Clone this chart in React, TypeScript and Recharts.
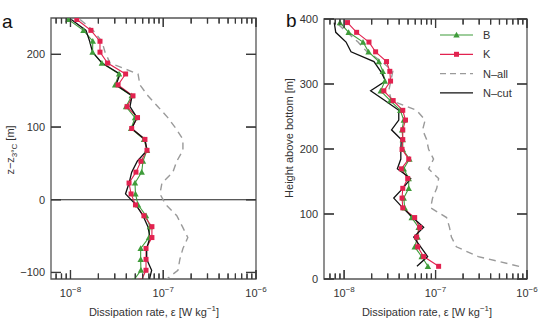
import React from 'react';
import { LineChart, Line, XAxis, YAxis, ReferenceLine, ReferenceArea, Legend } from 'recharts';

// panel a: depth relative to the 3°C isotherm
const zA = [248, 233, 218, 203, 188, 173, 158, 143, 128, 113, 98, 83, 68, 53, 38, 23, 8, -7, -22, -37, -52, -67, -82, -97, -112];
const bA = [9.5e-9, 1.38e-8, 1.74e-8, 1.73e-8, 2.18e-8, 3.34e-8, 3.03e-8, 4.57e-8, 3.97e-8, 4.96e-8, 4.5e-8, 6.2e-8, 6.68e-8, 6.05e-8, 5.86e-8, 4.96e-8, 5.02e-8, 5.35e-8, 6.52e-8, 7.19e-8, 7.02e-8, 5.71e-8, 5.71e-8, 5.75e-8, 4.72e-8];
const kA = [1.17e-8, 1.66e-8, 2.08e-8, 2.08e-8, 2.51e-8, 3.93e-8, 3.26e-8, 4.72e-8, 4.07e-8, 5.28e-8, 4.57e-8, 6.35e-8, 6.68e-8, 5.75e-8, 5.08e-8, 4.28e-8, 4.5e-8, 5.02e-8, 6.19e-8, 7.55e-8, 7.55e-8, 6.52e-8, 6.52e-8, 6.52e-8, 5.75e-8];
const nAllA = [1.27e-8, 1.75e-8, 2.18e-8, 2.36e-8, 2.67e-8, 5.35e-8, 5.61e-8, 6.84e-8, 8.77e-8, 1.12e-7, 1.37e-7, 1.63e-7, 1.63e-7, 1.4e-7, 1.27e-7, 9.68e-8, 9.22e-8, 1.07e-7, 1.4e-7, 1.61e-7, 1.84e-7, 1.63e-7, 1.51e-7, 1.44e-7, 1.02e-7];
const nCutA = [1.02e-8, 1.47e-8, 1.61e-8, 1.73e-8, 2.19e-8, 3.42e-8, 3.1e-8, 4.61e-8, 4.38e-8, 5.21e-8, 4.57e-8, 6.35e-8, 6.68e-8, 5.25e-8, 4.57e-8, 4.28e-8, 3.92e-8, 5.09e-8, 6.05e-8, 6.84e-8, 7.19e-8, 6.63e-8, 6.63e-8, 7.5e-8, 7.02e-8];

// panel b: height above bottom
const hB = [19.5, 34.5, 49.5, 64.5, 79.5, 94.5, 109.5, 124.5, 139.5, 154.5, 169.5, 184.5, 199.5, 214.5, 229.5, 244.5, 259.5, 274.5, 289.5, 304.5, 319.5, 334.5, 349.5, 364.5, 379.5, 394.5];
const bB = [8.25e-8, 7.05e-8, 5.91e-8, 6.37e-8, 6.53e-8, 5.48e-8, 4.6e-8, 4.49e-8, 5.09e-8, 5.09e-8, 4.49e-8, 5.18e-8, 4.38e-8, 4.38e-8, 4.3e-8, 4.49e-8, 4.11e-8, 3.2e-8, 2.51e-8, 2.79e-8, 2.65e-8, 2.4e-8, 1.85e-8, 1.61e-8, 1.12e-8, 9.0e-9];
const kB = [1.08e-7, 7.41e-8, 6.37e-8, 6.21e-8, 6.7e-8, 5.91e-8, 4.38e-8, 4.3e-8, 4.38e-8, 4.96e-8, 4.22e-8, 5.09e-8, 4.3e-8, 4.38e-8, 4.38e-8, 4.69e-8, 4.38e-8, 3.44e-8, 2.72e-8, 3.22e-8, 3.16e-8, 2.91e-8, 2.21e-8, 1.87e-8, 1.37e-8, 1.09e-8];
const nAllB = [8.19e-7, 2.93e-7, 1.69e-7, 1.49e-7, 1.42e-7, 1.32e-7, 8.82e-8, 9.28e-8, 1.03e-7, 1.08e-7, 8.39e-8, 9.51e-8, 8.39e-8, 7.98e-8, 7.22e-8, 7.69e-8, 6.21e-8, 3.3e-8, 3.08e-8, 3.24e-8, 3.41e-8, 2.59e-8, 1.78e-8, 1.42e-8, 1.08e-8, 8.2e-9];
const nCutB = [6.26e-8, 8.19e-8, 6.87e-8, 5.77e-8, 7.41e-8, 5.62e-8, 4.38e-8, 3.49e-8, 4.38e-8, 5.35e-8, 3.82e-8, 4.17e-8, 4.17e-8, 4.22e-8, 3.3e-8, 3.96e-8, 3.96e-8, 2.79e-8, 1.95e-8, 2.84e-8, 2.51e-8, 2.12e-8, 1.19e-8, 1.05e-8, 8.1e-9, 7.8e-9];

const xTicks = [7e-9, 8e-9, 9e-9, 1e-8, 2e-8, 3e-8, 4e-8, 5e-8, 6e-8, 7e-8, 8e-8, 9e-8, 1e-7, 2e-7, 3e-7, 4e-7, 5e-7, 6e-7, 7e-7, 8e-7, 9e-7, 1e-6];
const yTicksA = [-100, 0, 100, 200];
const yTicksB = [0, 100, 200, 300, 400];
const seriesNames = ['B', 'K', 'N\u2013all', 'N\u2013cut'];

const rowsA = zA.map((z, i) => ({ z, B: bA[i], K: kA[i], Nall: nAllA[i], Ncut: nCutA[i] }));
const rowsB = hB.map((h, i) => ({ h, B: bB[i], K: kB[i], Nall: nAllB[i], Ncut: nCutB[i] }));

const FONT = 'Liberation Sans, Arial, Helvetica, sans-serif';
const FRAME = '#555';
const TICK = '#3a3a3a';
const GREEN = '#3f9c3a';
const RED = '#e2224f';
const GREY = '#9a9a9a';
const BLACK = '#111';

const minus = (n: number) => (n < 0 ? '\u2212' + Math.abs(n) : String(n));
const isDecade = (v: number) => Math.abs(Math.log10(v) - Math.round(Math.log10(v))) < 1e-6;

function makeXTick(plotH: number) {
  return (props: any) => {
    const { x, y, payload } = props;
    const e = Math.round(Math.log10(payload.value));
    const major = isDecade(payload.value);
    const len = major ? 9 : 5.5;
    return (
      <g>
        <line x1={x} x2={x} y1={y} y2={y - len} stroke={TICK} strokeWidth={1.2} />
        <line x1={x} x2={x} y1={y - plotH} y2={y - plotH + len} stroke={TICK} strokeWidth={1.2} />
        {major && (
          <text x={x} y={y + 18} textAnchor="middle" fontSize={11} fill="#333" fontFamily={FONT}>
            10<tspan dy={-5} fontSize={8}>{minus(e)}</tspan>
          </text>
        )}
      </g>
    );
  };
}

function makeYTick(plotW: number) {
  return (props: any) => {
    const { x, y, payload } = props;
    return (
      <g>
        <line x1={x} x2={x + 10} y1={y} y2={y} stroke={TICK} strokeWidth={1.2} />
        <line x1={x + plotW - 10} x2={x + plotW} y1={y} y2={y} stroke={TICK} strokeWidth={1.2} />
        <text x={x - 6} y={y + 4} textAnchor="end" fontSize={11} fill="#333" fontFamily={FONT}>
          {minus(payload.value)}
        </text>
      </g>
    );
  };
}

// inward tick marks as reference segments (lengths converted from px to data units)
function tickSegments(k: string, domX: [number, number], domY: [number, number], yTicks: number[], plotW: number, plotH: number) {
  const yPerPx = (domY[1] - domY[0]) / plotH;
  const decPerPx = (Math.log10(domX[1]) - Math.log10(domX[0])) / plotW;
  const out: any[] = [];
  xTicks.forEach((v) => {
    const len = (isDecade(v) ? 9 : 5.5) * yPerPx;
    out.push(<ReferenceLine key={`${k}xb${v}`} segment={[{ x: v, y: domY[0] }, { x: v, y: domY[0] + len }]} stroke={TICK} strokeWidth={1.2} ifOverflow="visible" />);
    out.push(<ReferenceLine key={`${k}xt${v}`} segment={[{ x: v, y: domY[1] }, { x: v, y: domY[1] - len }]} stroke={TICK} strokeWidth={1.2} ifOverflow="visible" />);
  });
  const f = Math.pow(10, 10 * decPerPx);
  yTicks.forEach((t) => {
    out.push(<ReferenceLine key={`${k}yl${t}`} segment={[{ x: domX[0], y: t }, { x: domX[0] * f, y: t }]} stroke={TICK} strokeWidth={1.2} ifOverflow="visible" />);
    out.push(<ReferenceLine key={`${k}yr${t}`} segment={[{ x: domX[1] / f, y: t }, { x: domX[1], y: t }]} stroke={TICK} strokeWidth={1.2} ifOverflow="visible" />);
  });
  return out;
}

const renderTri = (props: any) => {
  const { cx, cy, key } = props;
  if (cx == null || cy == null) return <g key={key} />;
  const s = 3.2;
  return <polygon key={key} points={`${cx},${cy - s} ${cx - s},${cy + s * 0.8} ${cx + s},${cy + s * 0.8}`} fill={GREEN} />;
};

const renderSq = (props: any) => {
  const { cx, cy, key } = props;
  if (cx == null || cy == null) return <g key={key} />;
  return <rect key={key} x={cx - 2.5} y={cy - 2.5} width={5} height={5} fill={RED} />;
};

const LegendBox = () => (
  <svg width={100} height={80} style={{ overflow: 'visible' }}>
    {seriesNames.map((name, i) => {
      const y = 8 + i * 19.3;
      const stroke = [GREEN, RED, GREY, BLACK][i];
      return (
        <g key={name}>
          <line x1={0} x2={33} y1={y} y2={y} stroke={stroke} strokeWidth={i >= 2 ? 1.4 : 1.2} strokeDasharray={i === 2 ? '6 4' : undefined} />
          {i === 0 && renderTri({ cx: 16.5, cy: y, key: 't' })}
          {i === 1 && renderSq({ cx: 16.5, cy: y, key: 's' })}
          <text x={43} y={y + 4} fontSize={11} fill="#333" fontFamily={FONT}>{name}</text>
        </g>
      );
    })}
  </svg>
);

// axis titles and panel letters
const Titles = () => (
  <svg width={541} height={320} style={{ position: 'absolute', left: 0, top: 0, pointerEvents: 'none' }} fontFamily={FONT}>
    <text x={2} y={28} fontSize={19} fill="#111">a</text>
    <text x={286} y={27} fontSize={19} fill="#111">b</text>
    <text transform="translate(14,150) rotate(-90)" textAnchor="middle" fontSize={11} fill="#333">
      z{'\u2212'}z<tspan fontSize={8} dy={3}>3°C</tspan><tspan dy={-3}> [m]</tspan>
    </text>
    <text transform="translate(293,138) rotate(-90)" textAnchor="middle" fontSize={11} fill="#333">
      Height above bottom [m]
    </text>
    {[154, 427].map((cx) => (
      <text key={cx} x={cx} y={316} textAnchor="middle" fontSize={11} fill="#333">
        Dissipation rate, ε [W kg<tspan dy={-5} fontSize={8}>{'\u22121'}</tspan><tspan dy={5}>]</tspan>
      </text>
    ))}
  </svg>
);

const domA: [number, number] = [Math.pow(10, -8.21), 1e-6];
const domB: [number, number] = [Math.pow(10, -8.22), 1e-6];

export default function App() {
  const lines = (k: string) => [
    <Line key={k + 'n'} dataKey="Nall" stroke={GREY} strokeWidth={1.4} strokeDasharray="7 5" dot={false} isAnimationActive={false} />,
    <Line key={k + 'b'} dataKey="B" stroke={GREEN} strokeWidth={1.1} dot={renderTri} isAnimationActive={false} />,
    <Line key={k + 'k'} dataKey="K" stroke={RED} strokeWidth={1.1} dot={renderSq} isAnimationActive={false} />,
    <Line key={k + 'c'} dataKey="Ncut" stroke={BLACK} strokeWidth={1.3} dot={false} isAnimationActive={false} />,
  ];
  return (
    <div style={{ position: 'absolute', left: 0, top: 0, width: 541, height: 320, background: '#fff' }}>
      <div style={{ position: 'absolute', left: 0, top: 0 }}>
        <LineChart layout="vertical" width={270} height={320} data={rowsA} margin={{ top: 18, right: 14, bottom: 11, left: 0 }}>
          <XAxis type="number" scale="log" domain={domA} allowDataOverflow ticks={xTicks} interval={0}
            tickSize={0} tickMargin={0} axisLine={false} tickLine={false} height={30} tick={makeXTick(261)} />
          <YAxis type="number" dataKey="z" domain={[-109, 250]} reversed allowDataOverflow ticks={yTicksA} interval={0}
            tickSize={0} tickMargin={0} axisLine={false} tickLine={false} width={51} tick={makeYTick(205)} />
          <ReferenceArea x1={domA[0]} x2={domA[1]} y1={-109} y2={250} fill="none" stroke={FRAME} strokeWidth={1.3} ifOverflow="visible" />
          <ReferenceLine y={0} stroke="#222" strokeWidth={1.2} />
          {tickSegments('a', domA, [-109, 250], yTicksA, 205, 261)}
          {lines('a')}
        </LineChart>
      </div>
      <div style={{ position: 'absolute', left: 270, top: 0 }}>
        <LineChart layout="vertical" width={271} height={320} data={rowsB} margin={{ top: 19, right: 14, bottom: 11, left: 0 }}>
          <XAxis type="number" scale="log" domain={domB} allowDataOverflow ticks={xTicks} interval={0}
            tickSize={0} tickMargin={0} axisLine={false} tickLine={false} height={30} tick={makeXTick(260)} />
          <YAxis type="number" dataKey="h" domain={[0, 400]} reversed allowDataOverflow ticks={yTicksB} interval={0}
            tickSize={0} tickMargin={0} axisLine={false} tickLine={false} width={54} tick={makeYTick(203)} />
          <ReferenceArea x1={domB[0]} x2={domB[1]} y1={0} y2={400} fill="none" stroke={FRAME} strokeWidth={1.3} ifOverflow="visible" />
          {tickSegments('b', domB, [0, 400], yTicksB, 203, 260)}
          <Legend layout="vertical" align="center" verticalAlign="middle" content={LegendBox}
            wrapperStyle={{ left: 170, top: 27, width: 100, height: 80 }} />
          {lines('b')}
        </LineChart>
      </div>
      <Titles />
    </div>
  );
}
